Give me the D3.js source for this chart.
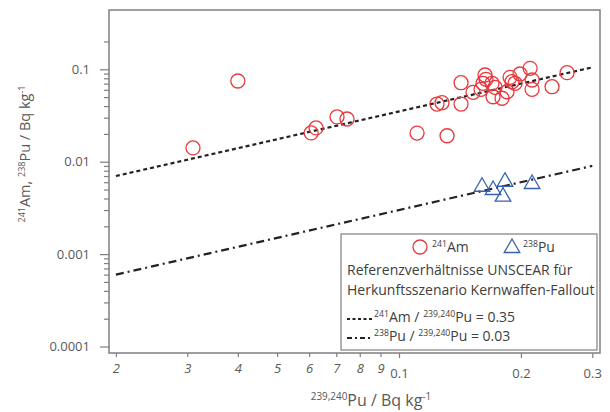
<!DOCTYPE html>
<html>
<head>
<meta charset="utf-8">
<script src="https://cdn.jsdelivr.net/npm/d3@7"></script>
<style>
  body { margin: 0; background: #fff; }
  svg text { font-family: "Open Sans", sans-serif; }
</style>
</head>
<body>
<svg width="610" height="412"></svg>
<script>
// 241Am vs 239,240Pu (Bq/kg)
const amPu  = [0.031, 0.040, 0.0607, 0.0624, 0.0703, 0.0744, 0.1108, 0.1314, 0.1241, 0.1277,
               0.1423, 0.1423, 0.1523, 0.1594, 0.1631, 0.1640, 0.1612, 0.1697, 0.1726, 0.1707,
               0.1796, 0.1848, 0.1880, 0.1901, 0.1934, 0.1990, 0.2107, 0.2131, 0.2131, 0.2387, 0.2600];
const amVal = [0.0141, 0.0747, 0.0205, 0.0232, 0.0305, 0.0290, 0.0204, 0.0191, 0.0421, 0.0435,
               0.0716, 0.0421, 0.0564, 0.0607, 0.0868, 0.0780, 0.0706, 0.0706, 0.0639, 0.0505,
               0.0486, 0.0572, 0.0819, 0.0734, 0.0706, 0.0890, 0.1025, 0.0766, 0.0607, 0.0648, 0.0919];

// 238Pu vs 239,240Pu
const puPu  = [0.1603, 0.1707, 0.1827, 0.1806, 0.2131];
const puVal = [0.00536, 0.00494, 0.00607, 0.00418, 0.00574];

// UNSCEAR reference ratios
const amRatio = 0.35, puRatio = 0.03;
const refX = [0.02, 0.3];

// ticks
const xMinor = [0.02, 0.03, 0.04, 0.05, 0.06, 0.07, 0.08, 0.09];
const xMinorLabels = ["2", "3", "4", "5", "6", "7", "8", "9"];
const xMajor = [0.1, 0.2, 0.3];
const xMajorLabels = ["0.1", "0.2", "0.3"];
const yMajor = [0.0001, 0.001, 0.01, 0.1];
const yMajorLabels = ["0.0001", "0.001", "0.01", "0.1"];

const svg = d3.select("svg");
const frame = { left: 109, right: 600, top: 10, bottom: 353 };
const axisCol = "#7f7f7f", textCol = "#595959", red = "#e8383d", blue = "#3461b0";

const x = d3.scaleLog().domain([0.01923, 0.3135]).range([frame.left, frame.right]);
const y = d3.scaleLog().domain([0.0000851, 0.4384]).range([frame.bottom, frame.top]);

// minor y ticks 2..9 per decade
const yMinor = [];
yMajor.forEach(d => { for (let m = 2; m <= 9; m++) if (d * m <= 0.3) yMinor.push(d * m); });

// superscript helper
function rich(sel, parts, size) {
  let shift = 0;
  parts.forEach(([s, sup]) => {
    const target = sup ? -size * 0.38 : 0;
    sel.append("tspan")
      .attr("font-size", sup ? size * 0.62 : size)
      .attr("dy", target - shift)
      .text(s);
    shift = target;
  });
}

// frame
svg.append("rect")
  .attr("x", frame.left).attr("y", frame.top)
  .attr("width", frame.right - frame.left).attr("height", frame.bottom - frame.top)
  .attr("fill", "none").attr("stroke", axisCol).attr("stroke-width", 1.5);

function styleAxis(g) {
  g.select(".domain").remove();
  g.selectAll("line").attr("stroke", axisCol).attr("stroke-width", 1.2);
  g.selectAll("text").attr("fill", textCol).style("font-size", "13px")
    .style("font-family", "'Open Sans', sans-serif");
}

// y axis
svg.append("g").attr("transform", `translate(${frame.left},0)`)
  .call(d3.axisLeft(y).tickValues(yMajor).tickSize(9).tickPadding(10)
    .tickFormat((d, i) => yMajorLabels[i]))
  .call(styleAxis);
svg.append("g").attr("transform", `translate(${frame.left},0)`)
  .call(d3.axisLeft(y).tickValues(yMinor).tickSize(5).tickFormat(""))
  .call(styleAxis);

// x axis
svg.append("g").attr("transform", `translate(0,${frame.bottom})`)
  .call(d3.axisBottom(x).tickValues(xMinor).tickSize(4).tickPadding(7)
    .tickFormat((d, i) => xMinorLabels[i]))
  .call(styleAxis)
  .selectAll("text").style("font-style", "italic");
svg.append("g").attr("transform", `translate(0,${frame.bottom})`)
  .call(d3.axisBottom(x).tickValues(xMajor).tickSize(5).tickPadding(11)
    .tickFormat((d, i) => xMajorLabels[i]))
  .call(styleAxis);

// axis titles
const xt = svg.append("text").attr("x", 371).attr("y", 406)
  .attr("text-anchor", "middle").attr("fill", textCol);
rich(xt, [["239,240", 1], ["Pu / Bq kg", 0], ["-1", 1]], 16);

const yt = svg.append("text").attr("transform", "translate(30,154) rotate(-90)")
  .attr("text-anchor", "middle").attr("fill", textCol);
rich(yt, [["241", 1], ["Am, ", 0], ["238", 1], ["Pu / Bq kg", 0], ["-1", 1]], 14.5);

// reference lines
const line = k => d3.line().x(d => x(d)).y(d => y(d * k));
svg.append("path").datum(refX).attr("d", line(amRatio))
  .attr("fill", "none").attr("stroke", "#222").attr("stroke-width", 2.2)
  .attr("stroke-dasharray", "4,3");
svg.append("path").datum(refX).attr("d", line(puRatio))
  .attr("fill", "none").attr("stroke", "#222").attr("stroke-width", 2.2)
  .attr("stroke-dasharray", "8,4,2,4");

// data
svg.append("g").selectAll("circle")
  .data(amPu.map((d, i) => [d, amVal[i]]))
  .join("circle")
  .attr("cx", d => x(d[0])).attr("cy", d => y(d[1])).attr("r", 7)
  .attr("fill", "none").attr("stroke", red).attr("stroke-width", 1.3);

const tri = d3.symbol().type(d3.symbolTriangle).size(105);
svg.append("g").selectAll("path")
  .data(puPu.map((d, i) => [d, puVal[i]]))
  .join("path")
  .attr("transform", d => `translate(${x(d[0])},${y(d[1])})`)
  .attr("d", tri)
  .attr("fill", "none").attr("stroke", blue).attr("stroke-width", 1.3);

// legend
const lg = svg.append("g");
const lgFont = 14;
lg.append("rect").attr("x", 341).attr("y", 234).attr("width", 256).attr("height", 116)
  .attr("fill", "#fff").attr("stroke", axisCol).attr("stroke-width", 1.2);
lg.append("circle").attr("cx", 420).attr("cy", 247).attr("r", 7)
  .attr("fill", "none").attr("stroke", red).attr("stroke-width", 1.3);
rich(lg.append("text").attr("x", 432).attr("y", 252).attr("fill", "#404040"),
  [["241", 1], ["Am", 0]], lgFont);
lg.append("path").attr("transform", "translate(512,248)").attr("d", tri)
  .attr("fill", "none").attr("stroke", blue).attr("stroke-width", 1.3);
rich(lg.append("text").attr("x", 523).attr("y", 252).attr("fill", "#404040"),
  [["238", 1], ["Pu", 0]], lgFont);
lg.append("text").attr("x", 347).attr("y", 275).attr("fill", "#404040")
  .style("font-size", lgFont + "px").text("Referenzverhältnisse UNSCEAR für");
lg.append("text").attr("x", 347).attr("y", 295).attr("fill", "#404040")
  .style("font-size", lgFont + "px").text("Herkunftsszenario Kernwaffen-Fallout");
lg.append("line").attr("x1", 347).attr("x2", 373).attr("y1", 319).attr("y2", 319)
  .attr("stroke", "#222").attr("stroke-width", 2).attr("stroke-dasharray", "3,2.5");
rich(lg.append("text").attr("x", 374).attr("y", 322).attr("fill", "#404040"),
  [["241", 1], ["Am / ", 0], ["239,240", 1], ["Pu = 0.35", 0]], lgFont);
lg.append("line").attr("x1", 347).attr("x2", 373).attr("y1", 338).attr("y2", 338)
  .attr("stroke", "#222").attr("stroke-width", 2).attr("stroke-dasharray", "5,3,2,3");
rich(lg.append("text").attr("x", 374).attr("y", 341).attr("fill", "#404040"),
  [["238", 1], ["Pu / ", 0], ["239,240", 1], ["Pu = 0.03", 0]], lgFont);
</script>
</body>
</html>
